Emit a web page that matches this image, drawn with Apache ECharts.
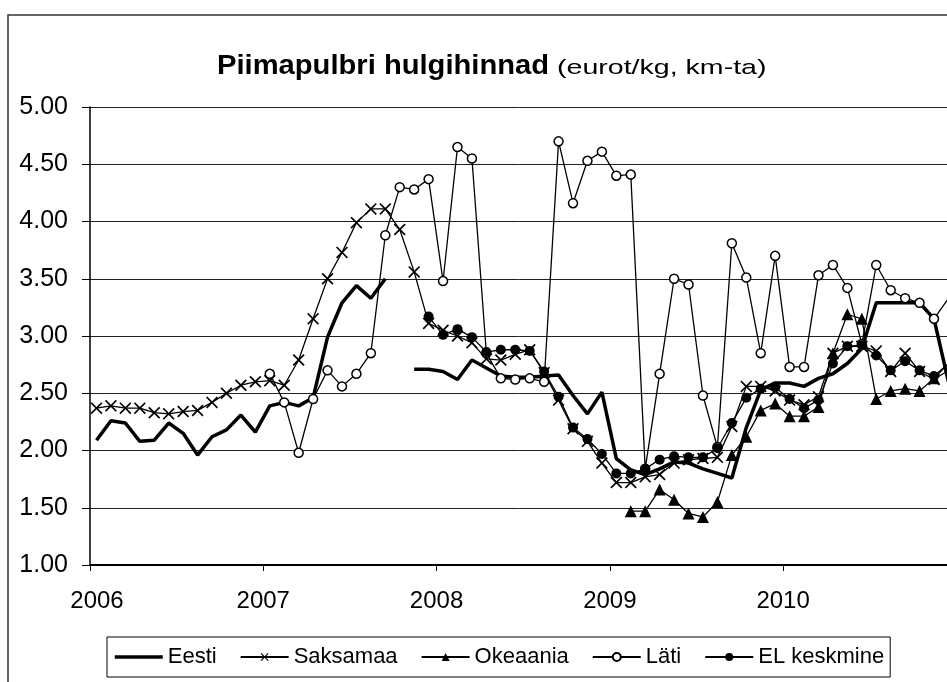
<!DOCTYPE html>
<html lang="et">
<head>
<meta charset="UTF-8">
<title>Piimapulbri hulgihinnad</title>
<script src="https://cdn.jsdelivr.net/npm/echarts@6/dist/echarts.min.js"></script>
<style>
  html, body { margin: 0; padding: 0; background: #fff; }
  #chart { width: 947px; height: 682px; }
</style>
</head>
<body>
<div id="chart"></div>
<script>
// monthly prices, Jan 2006 .. Dec 2010 (null = no data)
const years = [2006, 2007, 2008, 2009, 2010];
const seriesNames = ['Eesti', 'Saksamaa', 'Okeaania', 'Läti', 'EL keskmine'];
const titleMain = 'Piimapulbri hulgihinnad';
const titleUnit = '(eurot/kg, km-ta)';

const eesti = [
  2.09, 2.26, 2.24, 2.08, 2.09, 2.24, 2.15, 1.96, 2.12, 2.18, 2.31, 2.16,
  2.39, 2.42, 2.39, 2.46, 2.99, 3.29, 3.44, 3.33, 3.50, null, 2.71, 2.71,
  2.69, 2.62, 2.79, 2.72, 2.65, 2.64, 2.64, 2.65, 2.66, 2.48, 2.32, 2.51,
  1.93, 1.83, 1.79, 1.84, 1.90, 1.89, 1.84, 1.80, 1.76, 2.20, 2.53, 2.59,
  2.59, 2.56, 2.63, 2.67, 2.76, 2.89, 3.29, 3.29, 3.29, 3.29, 3.15, 2.60
];
const saksamaa = [
  2.37, 2.39, 2.37, 2.37, 2.33, 2.32, 2.34, 2.35, 2.42, 2.50, 2.57, 2.60,
  2.61, 2.57, 2.79, 3.15, 3.50, 3.73, 3.99, 4.11, 4.11, 3.93, 3.56, 3.11,
  3.05, 3.00, 2.94, 2.80, 2.79, 2.84, 2.88, 2.68, 2.44, 2.19, 2.08, 1.89,
  1.72, 1.72, 1.77, 1.79, 1.89, 1.92, 1.93, 1.94, 2.21, 2.56, 2.56, 2.52,
  2.44, 2.40, 2.47, 2.85, 2.91, 2.91, 2.87, 2.69, 2.85, 2.69, 2.62, 2.70
];
const okeaania = [
  null, null, null, null, null, null, null, null, null, null, null, null,
  null, null, null, null, null, null, null, null, null, null, null, null,
  null, null, null, null, null, null, null, null, null, null, null, null,
  null, 1.47, 1.47, 1.66, 1.57, 1.45, 1.42, 1.55, 1.96, 2.12, 2.35, 2.41,
  2.30, 2.30, 2.38, 2.85, 3.19, 3.15, 2.45, 2.52, 2.54, 2.52, 2.63, 2.76
];
const lati = [
  null, null, null, null, null, null, null, null, null, null, null, null,
  2.67, 2.42, 1.98, 2.45, 2.70, 2.56, 2.67, 2.85, 3.88, 4.30, 4.28, 4.37,
  3.48, 4.65, 4.55, 2.85, 2.63, 2.62, 2.63, 2.60, 4.70, 4.16, 4.53, 4.61,
  4.40, 4.41, 1.84, 2.67, 3.50, 3.45, 2.48, 2.03, 3.81, 3.51, 2.85, 3.70,
  2.73, 2.73, 3.53, 3.62, 3.42, 2.93, 3.62, 3.40, 3.33, 3.29, 3.15, 3.33
];
const elKeskmine = [
  null, null, null, null, null, null, null, null, null, null, null, null,
  null, null, null, null, null, null, null, null, null, null, null, 3.17,
  3.01, 3.06, 2.99, 2.86, 2.88, 2.88, 2.87, 2.69, 2.47, 2.20, 2.10, 1.97,
  1.80, 1.80, 1.84, 1.92, 1.95, 1.94, 1.94, 2.02, 2.24, 2.46, 2.54, 2.55,
  2.45, 2.37, 2.44, 2.76, 2.91, 2.92, 2.83, 2.70, 2.78, 2.70, 2.65, 2.76
];

// points sit mid-month on a month-based value axis (0 = start of 2006)
function toPoints(vals) {
  return vals.map((v, i) => [i + 0.45, v == null ? '-' : v]);
}

const font = 'Liberation Sans, Arial, sans-serif';
const xMark = 'path://M0,1L1,0L5,4L9,0L10,1L6,5L10,9L9,10L5,6L1,10L0,9L4,5Z';

let myChart = echarts.init(document.getElementById('chart'), null, { renderer: 'canvas' });

let thin = { color: '#000', width: 1.3 };

let option = {
  animation: false,
  backgroundColor: '#fff',
  textStyle: { fontFamily: font, color: '#000' },
  graphic: [
    {
      type: 'rect',
      shape: { x: 8, y: 15, width: 1200, height: 1000 },
      style: { fill: 'none', stroke: '#333', lineWidth: 1.5 },
      z: -10
    },
    // title drawn as text so it can be widened like the original
    {
      type: 'text',
      x: 217,
      y: 67,
      scaleX: 1.08,
      style: {
        text: titleMain,
        font: 'bold 27px ' + font,
        fill: '#000',
        textAlign: 'left',
        textVerticalAlign: 'middle'
      }
    },
    {
      type: 'text',
      x: 557,
      y: 68,
      scaleX: 1.36,
      style: {
        text: titleUnit,
        font: '21px ' + font,
        fill: '#000',
        textAlign: 'left',
        textVerticalAlign: 'middle'
      }
    }
  ],
  legend: {
    left: 107,
    top: 637,
    padding: [9, 6],
    itemGap: 23,
    itemWidth: 48,
    itemHeight: 10,
    borderColor: '#000',
    borderWidth: 1,
    textStyle: { fontFamily: font, fontSize: 22, color: '#000' },
    data: [
      { name: 'Eesti', lineStyle: { width: 3.5 } },
      'Saksamaa', 'Okeaania', 'Läti', 'EL keskmine'
    ]
  },
  grid: { left: 90, right: 0, top: 107, bottom: 117 },
  xAxis: {
    type: 'value',
    min: 0,
    max: 59.35,
    interval: 12,
    axisLine: { lineStyle: { color: '#000', width: 2 } },
    axisTick: { show: true, length: 6, lineStyle: { color: '#000', width: 1 } },
    splitLine: { show: false },
    axisLabel: {
      margin: 24,
      fontSize: 24,
      color: '#000',
      showMaxLabel: false,
      formatter: function (v) {
        if (v % 12 !== 0) return '';
        let y = years[v / 12];
        return v === 0 ? '{first|' + y + '}' : String(y);
      },
      rich: { first: { fontSize: 24, padding: [0, 0, 0, 14] } }
    }
  },
  yAxis: {
    type: 'value',
    min: 1,
    max: 5,
    interval: 0.5,
    axisLine: { show: true, lineStyle: { color: '#000', width: 1.5 } },
    axisTick: { show: true, length: 8, lineStyle: { color: '#000', width: 1 } },
    splitLine: { lineStyle: { color: '#222', width: 1 } },
    axisLabel: {
      margin: 22,
      fontSize: 25,
      color: '#000',
      formatter: v => v.toFixed(2)
    }
  },
  series: [
    {
      name: 'Eesti',
      type: 'line',
      data: toPoints(eesti),
      symbol: 'none',
      lineStyle: { color: '#000', width: 3.5 },
      // transparent item colour hides the legend marker, keeps the thick line
      itemStyle: { color: 'rgba(0,0,0,0)' },
      z: 2
    },
    {
      name: 'Saksamaa',
      type: 'line',
      data: toPoints(saksamaa),
      symbol: xMark,
      symbolSize: 12,
      showAllSymbol: true,
      lineStyle: thin,
      itemStyle: { color: '#000' },
      z: 3
    },
    {
      name: 'Okeaania',
      type: 'line',
      data: toPoints(okeaania),
      symbol: 'triangle',
      symbolSize: 12,
      showAllSymbol: true,
      lineStyle: thin,
      itemStyle: { color: '#000' },
      z: 4
    },
    {
      name: 'Läti',
      type: 'line',
      data: toPoints(lati),
      symbol: 'circle',
      symbolSize: 9,
      showAllSymbol: true,
      lineStyle: thin,
      itemStyle: { color: '#fff', borderColor: '#000', borderWidth: 1.5 },
      z: 5
    },
    {
      name: 'EL keskmine',
      type: 'line',
      data: toPoints(elKeskmine),
      symbol: 'circle',
      symbolSize: 10,
      showAllSymbol: true,
      lineStyle: thin,
      itemStyle: { color: '#000' },
      z: 6
    }
  ]
};

myChart.setOption(option);
</script>
</body>
</html>
